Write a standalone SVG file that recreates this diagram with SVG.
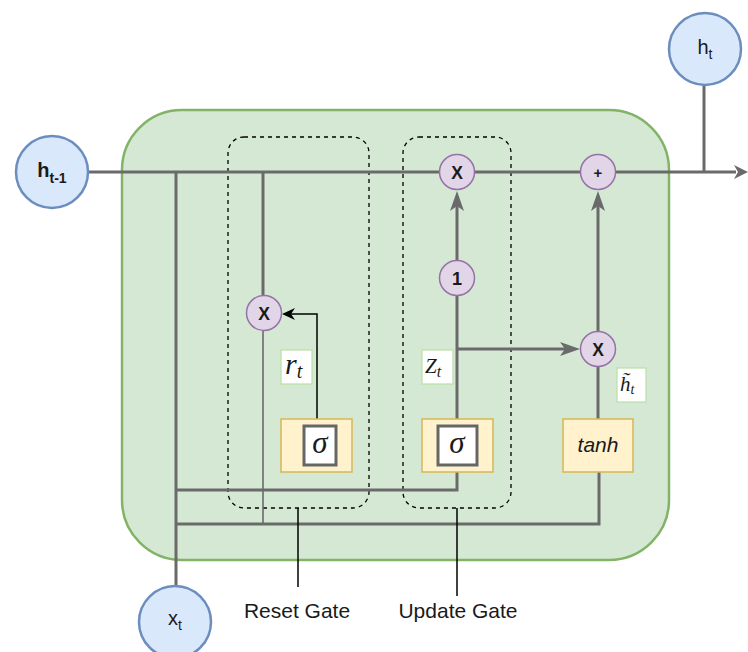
<svg xmlns="http://www.w3.org/2000/svg" width="748" height="652" viewBox="0 0 748 652">
<defs>
<style>
.io{fill:#dae8fc;stroke:#6c8ebf;stroke-width:2.5}
.op{fill:#e1d5e7;stroke:#9673a6;stroke-width:1.5}
.gate{fill:#fff2cc;stroke:#d6b656;stroke-width:1.5}
.inner{fill:#ffffff;stroke:#666666;stroke-width:3}
.lbl{fill:#ffffff;stroke:#b9e0a5;stroke-width:1.2}
.dash{fill:none;stroke:#000000;stroke-width:1.3;stroke-dasharray:4 4}
.w{fill:none;stroke:#6a6a6a;stroke-width:3}
.thin{fill:none;stroke:#6a6a6a;stroke-width:1.6}
.blk{fill:none;stroke:#000000;stroke-width:1.5}
.ah{fill:#6a6a6a;stroke:none}
.ahb{fill:#000000;stroke:none}
.sans{font-family:"Liberation Sans",Arial,sans-serif;fill:#1a1a1a}
.math{font-family:"Liberation Serif","DejaVu Serif",serif;font-style:italic;fill:#1a1a1a}
</style>
</defs>
<rect x="0" y="0" width="748" height="652" fill="#ffffff"/>
<g id="cell">
<rect x="122" y="110" width="547" height="450" rx="60" ry="60" fill="#d5e8d4" stroke="#82b366" stroke-width="2.5"/>
</g>
<g id="reset-gate-box"><rect class="dash" x="228" y="137" width="141" height="371" rx="16"/></g>
<g id="update-gate-box"><rect class="dash" x="403" y="137" width="108" height="371" rx="16"/></g>
<g id="connectors">
<path class="w" d="M88 172 H736"/>
<path class="ah" d="M748 172 L734 165 L738 172 L734 179 Z"/>
<path class="w" d="M704 86 V172"/>
<path class="w" d="M176 172 V586"/>
<path class="w" d="M263 172 V296"/>
<path class="thin" d="M263 330 V524"/>
<path class="w" d="M176 490 H457 V472"/>
<path class="w" d="M176 524 H599 V472"/>
<path class="w" d="M457 419 V295"/>
<path class="w" d="M457 260 V204"/>
<path class="ah" d="M457 191 L450 211 L457 206 L464 211 Z"/>
<path class="w" d="M457 349 H566"/>
<path class="ah" d="M580 349 L560 342 L565 349 L560 356 Z"/>
<path class="w" d="M598 419 V367"/>
<path class="w" d="M598 332 V204"/>
<path class="ah" d="M598 191 L591 211 L598 206 L605 211 Z"/>
<path class="blk" d="M317 419 V314 H290"/>
<path class="ahb" d="M282 314 L295 308 L291 314 L295 320 Z"/>
<path class="blk" d="M298 508 V587"/>
<path class="blk" d="M457 508 V596"/>
</g>
<g id="h_prev">
<circle class="io" cx="52" cy="172" r="36"/>
<text class="sans" x="52" y="177" text-anchor="middle" font-size="20" font-weight="bold">h<tspan font-size="14" dy="6">t-1</tspan></text>
</g>
<g id="h_t">
<circle class="io" cx="705" cy="49" r="36"/>
<text class="sans" x="705" y="54" text-anchor="middle" font-size="20">h<tspan font-size="14" dy="5">t</tspan></text>
</g>
<g id="x_t">
<circle class="io" cx="175" cy="622" r="36"/>
<text class="sans" x="175" y="625" text-anchor="middle" font-size="20">x<tspan font-size="14" dy="5">t</tspan></text>
</g>
<g id="mul-top">
<circle class="op" cx="457" cy="172" r="17.5"/>
<text class="sans" x="457" y="178.5" text-anchor="middle" font-size="17.5" font-weight="bold">X</text>
</g>
<g id="plus">
<circle class="op" cx="598" cy="172" r="17.5"/>
<text class="sans" x="598" y="177.5" text-anchor="middle" font-size="15" font-weight="bold">+</text>
</g>
<g id="one">
<circle class="op" cx="457" cy="278" r="17.5"/>
<text class="sans" x="457" y="284.5" text-anchor="middle" font-size="18" font-weight="bold">1</text>
</g>
<g id="mul-reset">
<circle class="op" cx="264" cy="313" r="17.5"/>
<text class="sans" x="264" y="319.5" text-anchor="middle" font-size="17.5" font-weight="bold">X</text>
</g>
<g id="mul-update">
<circle class="op" cx="598" cy="349" r="17.5"/>
<text class="sans" x="598" y="355.5" text-anchor="middle" font-size="17.5" font-weight="bold">X</text>
</g>
<g id="sigma-reset">
<rect class="gate" x="281" y="419" width="71" height="53"/>
<rect class="inner" x="304" y="426" width="32" height="39"/>
<text class="math" x="320" y="453" text-anchor="middle" font-size="31">σ</text>
</g>
<g id="sigma-update">
<rect class="gate" x="422" y="419" width="71" height="53"/>
<rect class="inner" x="438" y="426" width="39" height="39"/>
<text class="math" x="457" y="453" text-anchor="middle" font-size="31">σ</text>
</g>
<g id="tanh">
<rect class="gate" x="563" y="419" width="70" height="53"/>
<text class="sans" x="598" y="452" text-anchor="middle" font-size="21" font-style="italic">tanh</text>
</g>
<g id="label-r">
<rect class="lbl" x="281" y="350" width="31" height="34"/>
<text class="math" x="285" y="374" font-size="30">r<tspan font-size="20" dy="4">t</tspan></text>
</g>
<g id="label-z">
<rect class="lbl" x="422" y="350" width="31" height="34"/>
<text class="math" x="425" y="373" font-size="21">Z<tspan font-size="16" dy="4">t</tspan></text>
</g>
<g id="label-h">
<rect class="lbl" x="617" y="368" width="29" height="34"/>
<text class="math" x="620" y="391" font-size="21">h̃<tspan font-size="14" dy="3">t</tspan></text>
</g>
<g id="reset-label"><text class="sans" x="297" y="618" text-anchor="middle" font-size="21">Reset Gate</text></g>
<g id="update-label"><text class="sans" x="458" y="618" text-anchor="middle" font-size="21">Update Gate</text></g>
</svg>
